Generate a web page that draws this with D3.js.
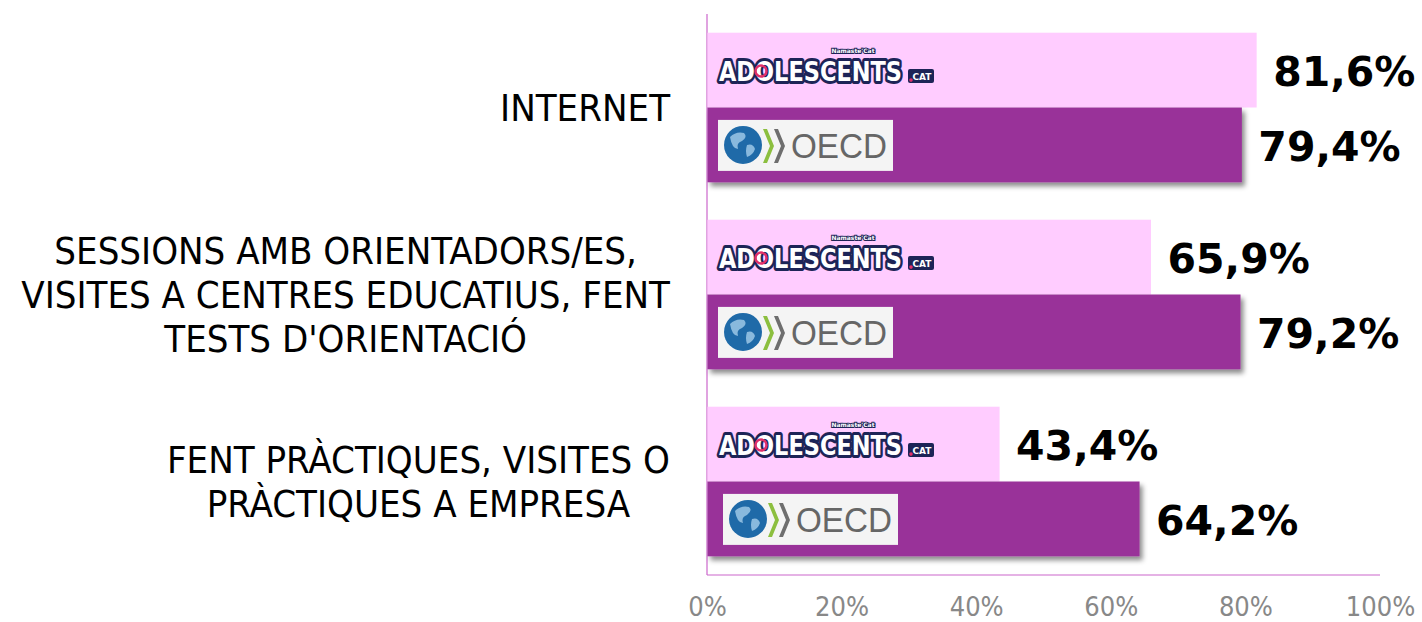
<!DOCTYPE html>
<html>
<head>
<meta charset="utf-8">
<script src="https://cdn.jsdelivr.net/npm/d3@7"></script>
<style>
  html, body { margin: 0; padding: 0; background: #ffffff; }
  svg { display: block; }
</style>
</head>
<body>
<svg id="chart" width="1422" height="622"></svg>
<script>
// ---- data ----
const categories = [
  "INTERNET",
  "SESSIONS AMB ORIENTADORS/ES,|VISITES A CENTRES EDUCATIUS, FENT|TESTS D'ORIENTACIÓ",
  "FENT PRÀCTIQUES, VISITES O|PRÀCTIQUES A EMPRESA"
];
const seriesNames = ["ADOLESCENTS.CAT", "OECD"];
const adolescentsValues = [81.6, 65.9, 43.4];
const oecdValues = [79.4, 79.2, 64.2];
const tickValues = [0, 20, 40, 60, 80, 100];

(function () {
// ---- layout ----
const svg = d3.select("#chart");
const pLeft = 707, pRight = 1380, pTop = 14, pBottom = 575;
const pink = "#ffccff", purple = "#993399", axisColor = "#cc66cc";

const x = d3.scaleLinear().domain([0, 100]).range([pLeft, pRight]);
const y = d3.scaleBand().domain(categories).range([pTop, pBottom]).paddingInner(0.2).paddingOuter(0.1);
const ySub = d3.scaleBand().domain(seriesNames).range([0, y.bandwidth()]);

const defs = svg.append("defs");
const f = defs.append("filter").attr("id", "shadow").attr("x", "-5%").attr("y", "-10%").attr("width", "115%").attr("height", "140%");
f.append("feDropShadow").attr("dx", 3).attr("dy", 4).attr("stdDeviation", 2.5).attr("flood-color", "#000").attr("flood-opacity", 0.45);

const rows = categories.map((c, i) => ({cat: c, vals: [
  {s: seriesNames[0], v: adolescentsValues[i]},
  {s: seriesNames[1], v: oecdValues[i]}
]}));

svg.append("line").attr("x1", pLeft).attr("x2", pLeft).attr("y1", pTop).attr("y2", pBottom)
  .attr("stroke", axisColor).attr("stroke-width", 1.2);

const g = svg.selectAll("g.cat").data(rows).join("g").attr("class", "cat")
  .attr("transform", d => `translate(0,${y(d.cat)})`);

g.selectAll("rect").data(d => d.vals).join("rect")
  .attr("x", x(0) + 0.5)
  .attr("y", d => ySub(d.s))
  .attr("width", d => x(d.v) - x(0))
  .attr("height", ySub.bandwidth())
  .attr("fill", d => d.s === "OECD" ? purple : pink)
  .attr("filter", d => d.s === "OECD" ? "url(#shadow)" : null);

g.selectAll("text.val").data(d => d.vals).join("text").attr("class", "val")
  .attr("x", d => x(d.v) + 17)
  .attr("y", d => ySub(d.s) + ySub.bandwidth() / 2 + 2)
  .attr("dominant-baseline", "central")
  .attr("font-family", "DejaVu Sans, Verdana, sans-serif")
  .attr("font-weight", "bold")
  .attr("font-size", 41)
  .attr("fill", "#000")
  .text(d => d.v.toFixed(1).replace(".", ",") + "%");

function adolescentsLogo(sel) {
  const lg = sel.append("g").attr("transform", d => `translate(${x(0) + 11},${ySub(seriesNames[0]) + ySub.bandwidth() / 2})`);
  lg.append("text").attr("transform", "translate(1,11) scale(1,1.3)")
    .attr("font-family", "DejaVu Sans, sans-serif").attr("font-weight", "bold")
    .attr("font-size", 21).attr("textLength", 183).attr("lengthAdjust", "spacingAndGlyphs")
    .attr("fill", "#ffffff").attr("stroke", "#1d2457").attr("stroke-width", 4.5)
    .attr("stroke-linejoin", "round").attr("paint-order", "stroke")
    .text("ADOLESCENTS");
  lg.append("circle").attr("cx", 43).attr("cy", 1).attr("r", 5.5).attr("fill", "none").attr("stroke", "#e0306a").attr("stroke-width", 2.5);
  lg.append("rect").attr("x", 190).attr("y", -1).attr("width", 26).attr("height", 14).attr("fill", "#1d2457").attr("rx", 2);
  lg.append("circle").attr("cx", 193).attr("cy", 10).attr("r", 1.8).attr("fill", "#e0306a");
  lg.append("text").attr("x", 204).attr("y", 10).attr("text-anchor", "middle")
    .attr("font-family", "DejaVu Sans, sans-serif").attr("font-weight", "bold").attr("font-size", 9)
    .attr("fill", "#fff").text("CAT");
  lg.append("text").attr("x", 135).attr("y", -17).attr("text-anchor", "middle")
    .attr("font-family", "DejaVu Sans, sans-serif").attr("font-weight", "bold").attr("font-size", 6)
    .attr("fill", "#ffffff").attr("stroke", "#1d2457").attr("stroke-width", 2).attr("paint-order", "stroke")
    .text("Namaste'Cat");
}
function oecdLogo(sel) {
  const lg = sel.append("g").attr("transform", (d, i) => `translate(${x(0) + 11 + (i === 2 ? 5 : 0)},${ySub(seriesNames[1]) + ySub.bandwidth() / 2 - 25})`);
  lg.append("rect").attr("width", 175).attr("height", 51).attr("fill", "#f4f4f4");
  lg.append("circle").attr("cx", 25).attr("cy", 25).attr("r", 19).attr("fill", "#1f6aa8");
  lg.append("path").attr("d", "M12,17 q6,-6 14,-4 q4,4 -2,8 q-6,2 -4,8 q-6,0 -8,-12 Z M29,25 q6,-2 8,4 q-2,6 -8,8 q-2,-6 0,-12 Z")
    .attr("fill", "#9cc7e6").attr("opacity", 0.85);
  lg.append("path").attr("d", "M45,9 l7,17 l-7,17 l4,0 l7,-17 l-7,-17 Z").attr("fill", "#8cbf3f");
  lg.append("path").attr("d", "M56,9 l7,17 l-7,17 l4,0 l7,-17 l-7,-17 Z").attr("fill", "#6e6e6e");
  lg.append("text").attr("x", 73).attr("y", 38)
    .attr("font-family", "Liberation Sans, Arial, sans-serif").attr("font-size", 35)
    .attr("textLength", 96).attr("lengthAdjust", "spacingAndGlyphs")
    .attr("fill", "#666").text("OECD");
}
g.call(adolescentsLogo);
g.call(oecdLogo);

svg.append("line").attr("x1", pLeft).attr("x2", pRight).attr("y1", pBottom).attr("y2", pBottom)
  .attr("stroke", axisColor).attr("stroke-width", 1.2);

const xAxis = d3.axisBottom(x).tickValues(tickValues).tickSize(0).tickPadding(0).tickFormat(d => d + "%");
const ax = svg.append("g").attr("transform", `translate(0,${pBottom + 22})`).call(xAxis);
ax.select(".domain").remove();
ax.selectAll("text").attr("font-family", "DejaVu Sans Condensed, Liberation Sans, sans-serif").attr("font-size", 27)
  .attr("fill", "#888").attr("dy", "0.71em");

const labelRight = 670;
const lab = svg.append("g").attr("font-family", "DejaVu Sans Condensed, DejaVu Sans, sans-serif").attr("font-size", 38).attr("fill", "#000");
categories.forEach(c => {
  const lines = c.split("|");
  const lh = 44;
  const cy = y(c) + y.bandwidth() / 2;
  const t = lab.append("g");
  const texts = lines.map((ln, i) => t.append("text")
    .attr("y", cy + (i - (lines.length - 1) / 2) * lh)
    .attr("dominant-baseline", "central")
    .attr("text-anchor", "middle")
    .text(ln));
  const widths = texts.map(tx => tx.node().getComputedTextLength());
  const maxW = d3.max(widths);
  texts.forEach(tx => tx.attr("x", labelRight - maxW / 2));
});
})();
</script>
</body>
</html>
